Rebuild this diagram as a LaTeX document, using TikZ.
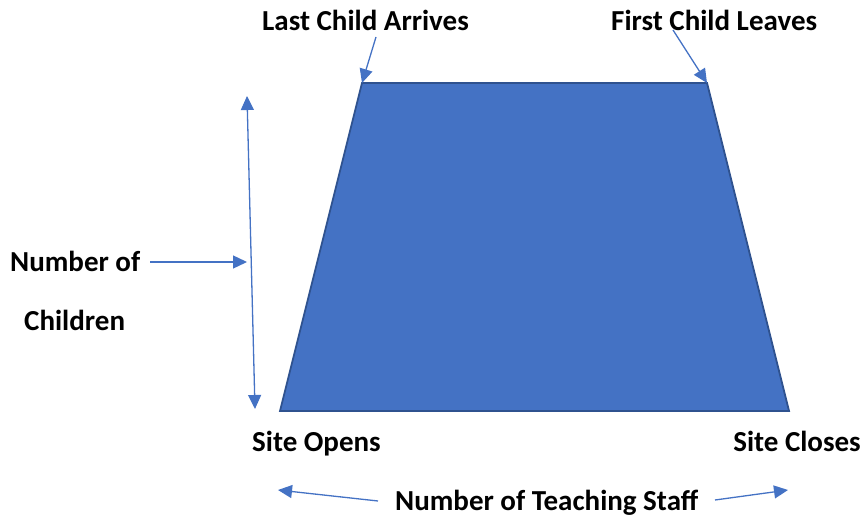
\documentclass[tikz,border=0pt]{standalone}
\usepackage{fontspec}
\setmainfont{Carlito}
\usetikzlibrary{arrows.meta}
\definecolor{offblue}{HTML}{4472C4}
\definecolor{offedge}{HTML}{2F528F}
\tikzset{
  lbl/.style={inner sep=0pt, anchor=base west, font=\fontsize{29}{35}\selectfont\bfseries},
  conn/.style={draw=offblue, line width=1.3pt, -{Triangle[length=14pt,width=13pt]}},
  dconn/.style={draw=offblue, line width=1.3pt, {Triangle[length=14pt,width=13pt]}-{Triangle[length=14pt,width=13pt]}},
}
\begin{document}
\begin{tikzpicture}[x=1pt,y=-1pt]
\useasboundingbox (0,0) rectangle (867,518);
% trapezoid
\coordinate (tl) at (362,83);
\coordinate (tr) at (707,83);
\coordinate (br) at (789,411);
\coordinate (bl) at (280,411);
\filldraw[fill=offblue, draw=offedge, line width=1.8pt, line join=miter] (tl) -- (tr) -- (br) -- (bl) -- cycle;
% labels
\node[lbl] (lca) at (262,31) {Last Child Arrives};
\node[lbl] (fcl) at (611,31) {First Child Leaves};
\node[lbl] (nof) at (10,272) {Number of};
\node[lbl] (chi) at (24,331) {Children};
\node[lbl] (so) at (252,451) {Site Opens};
\node[lbl, anchor=base east] (sc) at (861,451) {Site Closes};
\node[lbl] (nts) at (395,510) {Number of Teaching Staff};
% arrow ends
\coordinate (a1s) at (376,37);
\coordinate (a2s) at (673,30);
\coordinate (vt) at (247,96);
\coordinate (vb) at (255,409);
\coordinate (vm) at (247,262);
\coordinate (nofe) at (150,262);
\coordinate (ls) at (378,501);
\coordinate (lt) at (278,490);
\coordinate (rs) at (715,500);
\coordinate (rt) at (788,490);
% connectors
\draw[conn] (a1s) -- (tl);
\draw[conn] (a2s) -- (tr);
\draw[dconn] (vt) -- (vb);
\draw[conn] (nofe) -- (vm);
\draw[conn] (ls) -- (lt);
\draw[conn] (rs) -- (rt);
\end{tikzpicture}
\end{document}
